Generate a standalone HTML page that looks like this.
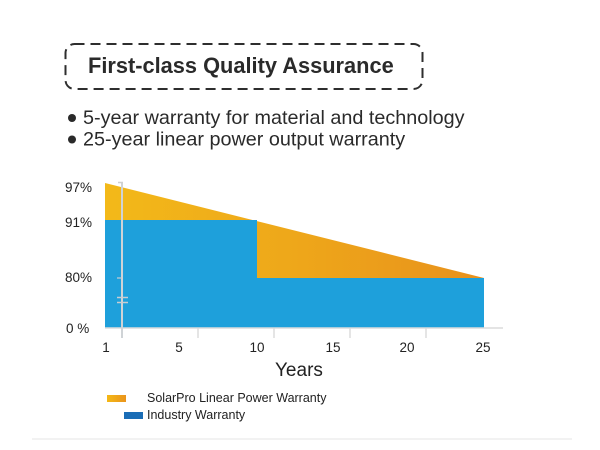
<!DOCTYPE html>
<html>
<head>
<meta charset="utf-8">
<style>
  html, body { margin:0; padding:0; background:#ffffff; }
  body { width:600px; height:450px; overflow:hidden; position:relative; }
  svg { position:absolute; left:0; top:0; }
  text { font-family: "Liberation Sans", Arial, sans-serif; }
</style>
</head>
<body>
<svg width="600" height="450" viewBox="0 0 600 450" xmlns="http://www.w3.org/2000/svg">
  <defs>
    <linearGradient id="og" x1="105" y1="0" x2="484" y2="0" gradientUnits="userSpaceOnUse">
      <stop offset="0" stop-color="#f3b919"/>
      <stop offset="0.5" stop-color="#eea71a"/>
      <stop offset="1" stop-color="#e8911c"/>
    </linearGradient>
    <linearGradient id="lg" x1="0" y1="0" x2="1" y2="0">
      <stop offset="0" stop-color="#f4b816"/>
      <stop offset="1" stop-color="#ea941c"/>
    </linearGradient>
  </defs>

  <!-- dashed title box -->
  <rect x="65.5" y="44" width="357" height="45" rx="9" ry="9" fill="none" stroke="#2e2e2e" stroke-width="2" stroke-dasharray="10 6"/>
  <text x="88" y="73" font-size="21.8" font-weight="bold" fill="#2a2a2a">First-class Quality Assurance</text>

  <!-- bullets -->
  <circle cx="72" cy="118" r="4" fill="#2a2a2a"/>
  <text x="83" y="124" font-size="19.8" fill="#2a2a2a">5-year warranty for material and technology</text>
  <circle cx="72" cy="139.5" r="4" fill="#2a2a2a"/>
  <text x="83" y="145.5" font-size="19.8" fill="#2a2a2a">25-year linear power output warranty</text>

  <!-- chart areas -->
  <polygon points="105,183 484,278 484,328 105,328" fill="url(#og)"/>
  <polygon points="105,220 257,220 257,278 484,278 484,328 105,328" fill="#1ea0db"/>

  <!-- axes -->
  <line x1="105" y1="328" x2="503" y2="328" stroke="#dcdcdc" stroke-width="1.5"/>
  <line x1="122" y1="182" x2="122" y2="338" stroke="#cfd3d6" stroke-width="2"/>
  <line x1="118" y1="182.5" x2="123" y2="182.5" stroke="#cfcfcf" stroke-width="1.5"/>
  <line x1="117" y1="278" x2="122" y2="278" stroke="#c8cdd2" stroke-width="1.2"/>
  <line x1="117" y1="297.5" x2="128" y2="297.5" stroke="#c8cdd2" stroke-width="1.5"/>
  <line x1="117" y1="302.5" x2="128" y2="302.5" stroke="#c8cdd2" stroke-width="1.5"/>
  <line x1="198" y1="328" x2="198" y2="338" stroke="#dcdcdc" stroke-width="1.5"/>
  <line x1="274" y1="328" x2="274" y2="338" stroke="#dcdcdc" stroke-width="1.5"/>
  <line x1="350" y1="328" x2="350" y2="338" stroke="#dcdcdc" stroke-width="1.5"/>
  <line x1="426" y1="328" x2="426" y2="338" stroke="#dcdcdc" stroke-width="1.5"/>

  <!-- y labels -->
  <text x="65" y="192" font-size="13.5" fill="#222">97%</text>
  <text x="65" y="227" font-size="13.5" fill="#222">91%</text>
  <text x="65" y="282" font-size="13.5" fill="#222">80%</text>
  <text x="66" y="333" font-size="13.5" fill="#222">0 %</text>

  <!-- x labels -->
  <text x="106" y="352" font-size="13.5" fill="#222" text-anchor="middle">1</text>
  <text x="179" y="352" font-size="13.5" fill="#222" text-anchor="middle">5</text>
  <text x="257" y="352" font-size="13.5" fill="#222" text-anchor="middle">10</text>
  <text x="333" y="352" font-size="13.5" fill="#222" text-anchor="middle">15</text>
  <text x="407" y="352" font-size="13.5" fill="#222" text-anchor="middle">20</text>
  <text x="483" y="352" font-size="13.5" fill="#222" text-anchor="middle">25</text>
  <text x="275" y="376" font-size="19" fill="#222">Years</text>

  <!-- legend -->
  <rect x="107" y="395" width="19" height="7" fill="url(#lg)"/>
  <text x="147" y="402" font-size="12.5" fill="#222">SolarPro Linear Power Warranty</text>
  <rect x="124" y="412" width="19" height="7" fill="#1a6db6"/>
  <text x="147" y="419" font-size="12.5" fill="#222">Industry Warranty</text>

  <!-- bottom separator -->
  <line x1="32" y1="439" x2="572" y2="439" stroke="#e4e4e4" stroke-width="1"/>
</svg>
</body>
</html>
